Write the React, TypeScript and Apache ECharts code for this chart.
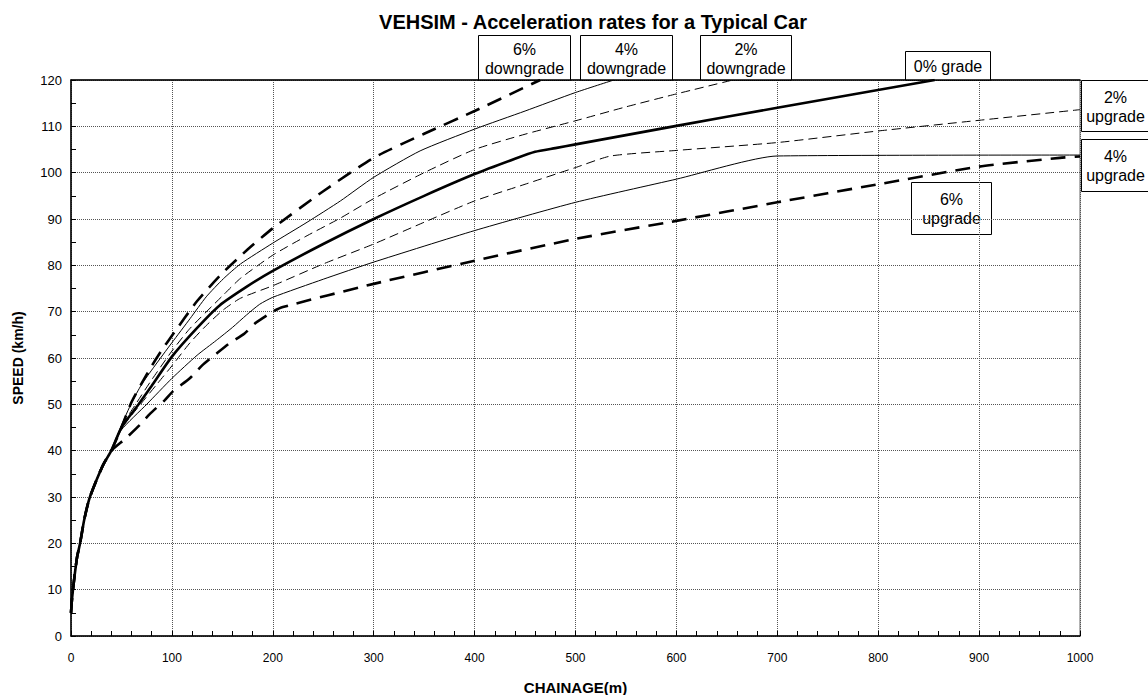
import React, { useEffect, useRef } from "react";
import * as echarts from "echarts";

const titleText = "VEHSIM - Acceleration rates for a Typical Car";
const xAxisName = "CHAINAGE(m)";
const yAxisName = "SPEED (km/h)";

// shared start of all curves [chainage m, speed km/h]
const trunk: number[][] = [
  [0, 5], [1, 8], [3, 12], [6, 17], [9, 20], [13, 25], [18, 29.5], [25, 33.5], [32, 37], [40, 40],
];

const down6: number[][] = [
  [50, 45], [60, 50.5], [70, 54.5], [80, 58.3], [90, 61.7], [100, 64.8], [125, 72.3], [150, 78.3],
  [175, 83.4], [200, 88], [250, 96], [300, 103.2], [350, 108.4], [400, 113.3], [465, 120],
];
const down4: number[][] = [
  [50, 45.5], [60, 50.3], [70, 54.3], [82, 58], [100, 63.3], [118, 68.5], [134, 73.2], [151, 77.1],
  [168, 80.3], [200, 84.8], [234, 89.3], [267, 93.9], [300, 99], [346, 104.7], [400, 109.4],
  [450, 113.3], [500, 117.3], [538, 120],
];
const down2: number[][] = [
  [50, 45.2], [64, 50], [80, 55.3], [100, 61.5], [118, 66.4], [151, 73.6], [168, 77.2], [200, 82.2],
  [234, 86.4], [267, 90.2], [300, 94.4], [350, 100], [400, 105], [450, 108.3], [500, 111.2],
  [550, 114.2], [600, 117], [656, 120],
];
const grade0: number[][] = [
  [50, 45], [67, 50], [80, 54], [100, 60.3], [125, 66.5], [147, 71.3], [175, 75.5], [200, 78.8],
  [250, 84.6], [300, 90], [350, 95], [400, 99.7], [440, 103], [460, 104.5], [480, 105.3],
  [500, 106.1], [600, 110.1], [700, 114], [856, 120],
];
const up2: number[][] = [
  [50, 44.8], [70, 50.3], [85, 54.3], [100, 58.3], [118, 63.3], [134, 67], [151, 70.4], [168, 72.9],
  [200, 75.6], [250, 80.3], [300, 84.6], [350, 89.3], [400, 93.9], [450, 97.5], [500, 101.1],
  [535, 103.6], [600, 104.8], [700, 106.5], [800, 109], [900, 111.3], [1000, 113.6],
];
const up4: number[][] = [
  [50, 44.5], [75, 50], [100, 55.6], [125, 60.6], [144, 63.8], [160, 66.6], [174, 69.3], [187, 71.6],
  [200, 73.1], [250, 77], [300, 80.7], [400, 87.5], [500, 93.6], [600, 98.6], [700, 103.6],
  [1000, 103.8],
];
const up6: number[][] = [
  [54, 42.6], [68, 45.5], [78, 47.9], [93, 50.9], [101, 52.8], [118, 55.7], [130, 58.4], [144, 60.9],
  [156, 63], [172, 65.3], [182, 67.4], [200, 70], [210, 71], [300, 76], [400, 81], [500, 85.7],
  [600, 89.6], [700, 93.6], [800, 97.5], [900, 101.3], [980, 103.2], [1000, 103.5],
];

const seriesNames = ["6% downgrade", "4% downgrade", "2% downgrade", "0% grade", "2% upgrade", "4% upgrade", "6% upgrade"];
const seriesData = [down6, down4, down2, grade0, up2, up4, up6];

// label boxes: [line1, line2]
const boxLabels: string[][] = [
  ["6%", "downgrade"], ["4%", "downgrade"], ["2%", "downgrade"], ["0% grade"],
  ["2%", "upgrade"], ["4%", "upgrade"], ["6%", "upgrade"],
];

const FONT = "'Liberation Sans', Arial, sans-serif";

export default function App() {
  const ref = useRef<HTMLDivElement>(null);
  useEffect(() => {
    if (!ref.current) return;
    const chart = echarts.init(ref.current, undefined, { renderer: "svg" });
    const styles = [
      { width: 2.6, type: [15, 9] },
      { width: 1, type: "solid" },
      { width: 1, type: [9, 5] },
      { width: 2.6, type: "solid" },
      { width: 1, type: [9, 5] },
      { width: 1, type: "solid" },
      { width: 2.6, type: [15, 9] },
    ];
    // box geometry; tx = text centre offset within box
    const boxes = [
      { x: 478, y: 35, w: 92, h: 45, tx: 46 },
      { x: 580, y: 35, w: 92, h: 45, tx: 46 },
      { x: 700, y: 35, w: 91, h: 45, tx: 45.5 },
      { x: 905, y: 51, w: 85, h: 29, tx: 42.5 },
      { x: 1081, y: 80, w: 80, h: 51, tx: 34 },
      { x: 1081, y: 139, w: 80, h: 52, tx: 34 },
      { x: 911, y: 182, w: 80, h: 52, tx: 40 },
    ];
    const graphics: any[] = boxes.map((b, i) => {
      const lines = boxLabels[i];
      return {
        type: "group",
        x: b.x,
        y: b.y,
        z: 100,
        children: [
          { type: "rect", shape: { x: 0.5, y: 0.5, width: b.w, height: b.h }, style: { fill: "#fff", stroke: "#000", lineWidth: 1 } },
          {
            type: "text",
            x: b.tx + 0.5,
            y: b.h / 2 + 1,
            style: {
              text: lines.join("\n"),
              font: "16px " + FONT,
              fill: "#000",
              align: "center",
              verticalAlign: "middle",
              lineHeight: 19,
            },
          },
        ],
      };
    });
    chart.setOption({
      animation: false,
      backgroundColor: "#fff",
      title: {
        text: titleText,
        left: 588,
        top: 7,
        textAlign: "center",
        textStyle: { fontFamily: FONT, fontSize: 20, fontWeight: "bold", color: "#000" },
      },
      grid: {
        left: 71, right: 68, top: 80, bottom: 59,
        show: true, borderColor: "#666", borderWidth: 1,
        containLabel: false, outerBoundsMode: "none",
      },
      xAxis: [
        {
          type: "value",
          min: 0,
          max: 1000,
          interval: 100,
          name: xAxisName,
          nameLocation: "middle",
          nameGap: 44,
          nameTextStyle: { fontFamily: FONT, fontSize: 15, fontWeight: "bold", color: "#000" },
          axisLine: { show: true, lineStyle: { color: "#000", width: 1.5 } },
          axisTick: { show: true, inside: true, length: 5, lineStyle: { color: "#000" } },
          minorTick: { show: true, splitNumber: 5, length: 5, lineStyle: { color: "#000" } },
          axisLabel: { margin: 16, fontFamily: FONT, fontSize: 12, color: "#000", formatter: (v: number) => String(v) },
          splitLine: { show: true, lineStyle: { color: "#555", type: "dotted", width: 1 } },
        },
        {
          type: "value",
          position: "top",
          min: 0,
          max: 1000,
          interval: 100,
          axisLine: { show: true, lineStyle: { color: "#000", width: 1.5 } },
          axisTick: { show: false },
          axisLabel: { show: false },
          splitLine: { show: false },
        },
      ],
      yAxis: {
        type: "value",
        min: 0,
        max: 120,
        interval: 10,
        name: yAxisName,
        nameLocation: "middle",
        nameGap: 46,
        nameRotate: 90,
        nameTextStyle: { fontFamily: FONT, fontSize: 14, fontWeight: "bold", color: "#000" },
        axisLine: { show: true, lineStyle: { color: "#000", width: 1.5 } },
        axisTick: { show: true, inside: true, length: 5, lineStyle: { color: "#000" } },
        minorTick: { show: true, splitNumber: 2, length: 5, lineStyle: { color: "#000" } },
        axisLabel: { margin: 9, fontFamily: FONT, fontSize: 13, color: "#000" },
        splitLine: { show: true, lineStyle: { color: "#555", type: "dotted", width: 1 } },
      },
      series: seriesData.map((d, i) => ({
        name: seriesNames[i],
        type: "line",
        data: [...trunk, ...d],
        showSymbol: false,
        symbol: "none",
        smooth: 0.2,
        clip: true,
        lineStyle: { color: "#000", width: styles[i].width, type: styles[i].type as any },
        z: 3,
      })),
      graphic: graphics,
    });
    return () => chart.dispose();
  }, []);
  return <div ref={ref} style={{ position: "fixed", left: 0, top: 0, width: 1148, height: 695 }} />;
}
